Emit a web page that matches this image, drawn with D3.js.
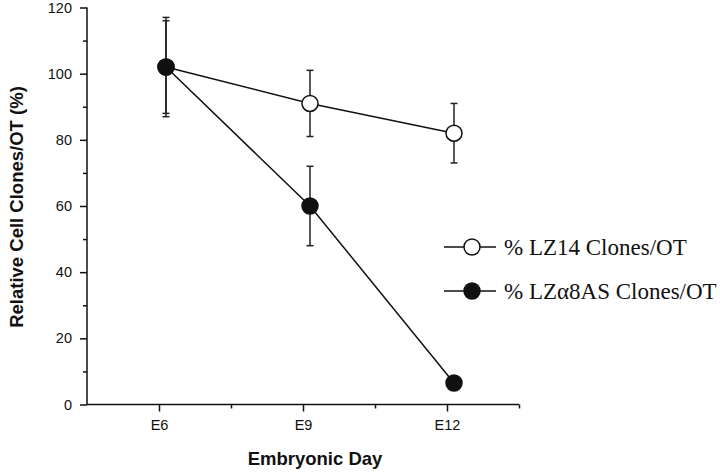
<!DOCTYPE html>
<html>
<head>
<meta charset="utf-8">
<script src="https://cdn.jsdelivr.net/npm/d3@7"></script>
<style>
  html, body { margin: 0; padding: 0; background: #fff; }
  svg { display: block; }
</style>
</head>
<body>
<svg id="chart" width="720" height="474"></svg>
<script>
// ---- data ----
const days = [6, 9, 12];
const dayLabels = ["E6", "E9", "E12"];
const lz14Values = [102, 91, 82];
const lz14ErrLow = [88, 81, 73];
const lz14ErrHigh = [117, 101, 91];
const lza8Values = [102, 60, 6.5];
const lza8ErrLow = [87, 48, 6.5];
const lza8ErrHigh = [116, 72, 6.5];
const yTicks = [0, 20, 40, 60, 80, 100, 120];
const yMinorTicks = [10, 30, 50, 70, 90, 110];
const xMinorTicks = [7.5, 10.5, 13.5];
const seriesNames = ["% LZ14 Clones/OT", "% LZ\u03b18AS Clones/OT"];

(function () {
const svg = d3.select("#chart");
const mLeft = 87, mRight = 519, mTop = 7.5, mBottom = 404.5;
const x = d3.scaleLinear().domain([4.5, 13.5]).range([mLeft, mRight]);
const y = d3.scaleLinear().domain([0, 120]).range([mBottom, mTop]);
const markerShift = 7;
const r = 8;
const font = "Liberation Sans, Arial, sans-serif";

// axes
const gy = svg.append("g").attr("transform", `translate(${mLeft},0)`)
  .call(d3.axisLeft(y).tickValues(yTicks).tickSize(7).tickPadding(8));
gy.selectAll("text").attr("font-family", font).attr("font-size", 14.5).attr("fill", "#111");
svg.append("g").attr("transform", `translate(${mLeft},0)`)
  .call(d3.axisLeft(y).tickValues(yMinorTicks).tickSize(4).tickFormat(""));

const gx = svg.append("g").attr("transform", `translate(0,${mBottom})`)
  .call(d3.axisBottom(x).tickValues(days).tickFormat((d, i) => dayLabels[i]).tickSize(7).tickPadding(8));
gx.selectAll("text").attr("font-family", font).attr("font-size", 14.5).attr("fill", "#111");
svg.append("g").attr("transform", `translate(0,${mBottom})`)
  .call(d3.axisBottom(x).tickValues(xMinorTicks).tickSize(4).tickFormat(""));
svg.selectAll(".domain").remove();
svg.selectAll(".tick line").attr("stroke", "#111").attr("stroke-width", 1.5);
svg.append("line").attr("x1", mLeft).attr("x2", mLeft).attr("y1", y(120)).attr("y2", y(0)).attr("stroke", "#111").attr("stroke-width", 1.5);
svg.append("line").attr("x1", mLeft).attr("x2", mRight).attr("y1", y(0)).attr("y2", y(0)).attr("stroke", "#111").attr("stroke-width", 1.5);

// axis titles
svg.append("text").attr("x", 315).attr("y", 465).attr("text-anchor", "middle")
  .attr("font-family", font).attr("font-weight", "bold").attr("font-size", 18.5)
  .attr("fill", "#111").text("Embryonic Day");
svg.append("text").attr("transform", "translate(23,207) rotate(-90)").attr("text-anchor", "middle")
  .attr("font-family", font).attr("font-weight", "bold").attr("font-size", 18.5)
  .attr("fill", "#111").text("Relative Cell Clones/OT (%)");

const px = d => x(d) + markerShift;
function drawSeries(vals, lo, hi, fill) {
  const pts = days.map((d, i) => ({ d, v: vals[i], lo: lo[i], hi: hi[i] }));
  const g = svg.append("g");
  g.append("path").datum(pts)
    .attr("d", d3.line().x(p => px(p.d)).y(p => y(p.v)))
    .attr("fill", "none").attr("stroke", "#111").attr("stroke-width", 1.5);
  pts.forEach(p => {
    if (p.hi > p.lo) {
      g.append("line").attr("x1", px(p.d)).attr("x2", px(p.d)).attr("y1", y(p.lo)).attr("y2", y(p.hi)).attr("stroke", "#222").attr("stroke-width", 1.5);
      [p.lo, p.hi].forEach(e => g.append("line").attr("x1", px(p.d) - 3.5).attr("x2", px(p.d) + 3.5).attr("y1", y(e)).attr("y2", y(e)).attr("stroke", "#222").attr("stroke-width", 1.5));
    }
  });
  g.selectAll("circle").data(pts).enter().append("circle")
    .attr("cx", p => px(p.d)).attr("cy", p => y(p.v)).attr("r", r)
    .attr("fill", fill).attr("stroke", "#111").attr("stroke-width", 1.5);
}
drawSeries(lz14Values, lz14ErrLow, lz14ErrHigh, "#fff");
drawSeries(lza8Values, lza8ErrLow, lza8ErrHigh, "#111");

// legend
const legendY = [247, 291];
const fills = ["#fff", "#111"];
seriesNames.forEach((name, i) => {
  const g = svg.append("g").attr("transform", `translate(0,${legendY[i]})`);
  g.append("line").attr("x1", 444).attr("x2", 496).attr("y1", 0).attr("y2", 0).attr("stroke", "#111").attr("stroke-width", 1.5);
  g.append("circle").attr("cx", 472).attr("cy", 0).attr("r", r).attr("fill", fills[i]).attr("stroke", "#111").attr("stroke-width", 1.5);
  g.append("text").attr("x", 504).attr("y", 7.5).attr("font-family", "Liberation Serif, Times New Roman, serif")
    .attr("font-size", 23).attr("fill", "#111").text(name);
});
})();
</script>
</body>
</html>
